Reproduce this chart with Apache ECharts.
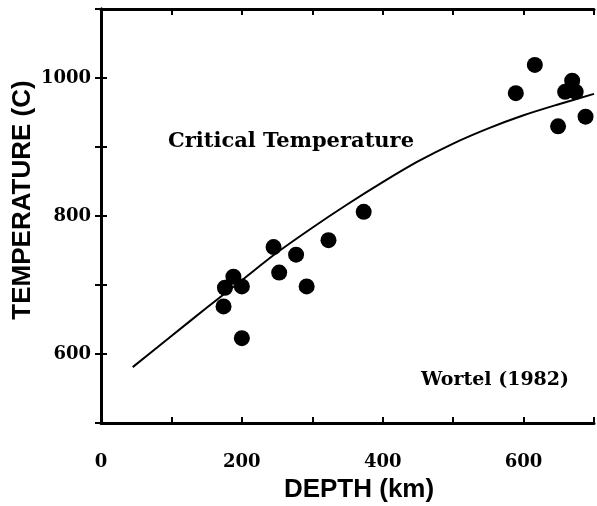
<!DOCTYPE html>
<html>
<head>
<meta charset="utf-8">
<script src="https://cdn.jsdelivr.net/npm/echarts@6/dist/echarts.min.js"></script>
<style>html,body{margin:0;padding:0;background:#fff;}#c{width:597px;height:506px;}</style>
</head>
<body>
<div id="c"></div>
<script>
// Observed slab data points: depth (km), temperature (C)
const pointDepth = [174, 176, 188, 200, 200, 245, 253, 277, 292, 323, 373, 589, 616, 649, 659, 669, 674, 688];
const pointTemp  = [669, 696, 712, 698, 623, 755, 718, 744, 698, 765, 806, 978, 1019, 930, 980, 996, 980, 944];

// Critical temperature curve
const curveDepth = [45, 100, 150, 200, 250, 300, 350, 400, 450, 500, 550, 600, 650, 700];
const curveTemp  = [581, 626, 667, 707, 747, 783, 817, 849, 879, 905, 927, 946, 962, 977];

const xTickLabels = [0, 200, 400, 600];
const yTickLabels = [600, 800, 1000];

const chart = echarts.init(document.getElementById('c'), null, {renderer: 'canvas'});

const serifBold = {fontFamily: 'DejaVu Serif', fontWeight: 'bold', color: '#000'};
const axisLineStyle = {show: true, lineStyle: {color: '#000', width: 3}};
const tickStyle = {show: true, inside: true, length: 6, lineStyle: {color: '#000', width: 2}};

const option = {
  animation: false,
  backgroundColor: '#fff',
  grid: {left: 101, right: 3, top: 9, bottom: 83, containLabel: false},
  xAxis: [{
    type: 'value', min: 0, max: 700, interval: 100, position: 'bottom',
    axisLine: axisLineStyle, axisTick: tickStyle, splitLine: {show: false},
    axisLabel: Object.assign({}, serifBold, {fontSize: 18, margin: 30,
      formatter: v => xTickLabels.indexOf(v) >= 0 ? String(v) : ''})
  }, {
    type: 'value', min: 0, max: 700, interval: 100, position: 'top',
    axisLine: axisLineStyle, axisTick: tickStyle, axisLabel: {show: false}, splitLine: {show: false}
  }],
  yAxis: [{
    type: 'value', min: 500, max: 1100, interval: 100, position: 'left',
    axisLine: axisLineStyle, axisTick: tickStyle, splitLine: {show: false},
    axisLabel: Object.assign({}, serifBold, {fontSize: 18, margin: 10,
      formatter: v => yTickLabels.indexOf(v) >= 0 ? String(v) : ''})
  }, {
    type: 'value', min: 500, max: 1100, interval: 100, position: 'right',
    axisLine: axisLineStyle, axisTick: tickStyle, axisLabel: {show: false}, splitLine: {show: false}
  }],
  series: [{
    type: 'line', xAxisIndex: 0, yAxisIndex: 0,
    data: curveDepth.map((d, i) => [d, curveTemp[i]]),
    smooth: 0.3, showSymbol: false, symbol: 'none',
    lineStyle: {color: '#000', width: 2}, z: 2
  }, {
    type: 'scatter', xAxisIndex: 0, yAxisIndex: 0,
    data: pointDepth.map((d, i) => [d, pointTemp[i]]),
    symbol: 'circle', symbolSize: 16,
    itemStyle: {color: '#000', opacity: 1}, z: 3
  }],
  graphic: [{
    type: 'text', left: 168, top: 131,
    style: {text: 'Critical Temperature', fontFamily: 'DejaVu Serif', fontWeight: 'bold', fontSize: 21, fill: '#000'}
  }, {
    type: 'text', left: 421, top: 371,
    style: {text: 'Wortel (1982)', fontFamily: 'DejaVu Serif', fontWeight: 'bold', fontSize: 19, fill: '#000'}
  }, {
    type: 'text', x: 359, y: 490,
    style: {text: 'DEPTH (km)', fontFamily: 'Liberation Sans', fontWeight: 'bold', fontSize: 26,
      fill: '#000', align: 'center', verticalAlign: 'middle'}
  }, {
    type: 'text', x: 23, y: 200, rotation: Math.PI / 2,
    style: {text: 'TEMPERATURE (C)', fontFamily: 'Liberation Sans', fontWeight: 'bold', fontSize: 26,
      fill: '#000', align: 'center', verticalAlign: 'middle'}
  }]
};
chart.setOption(option);
</script>
</body>
</html>
